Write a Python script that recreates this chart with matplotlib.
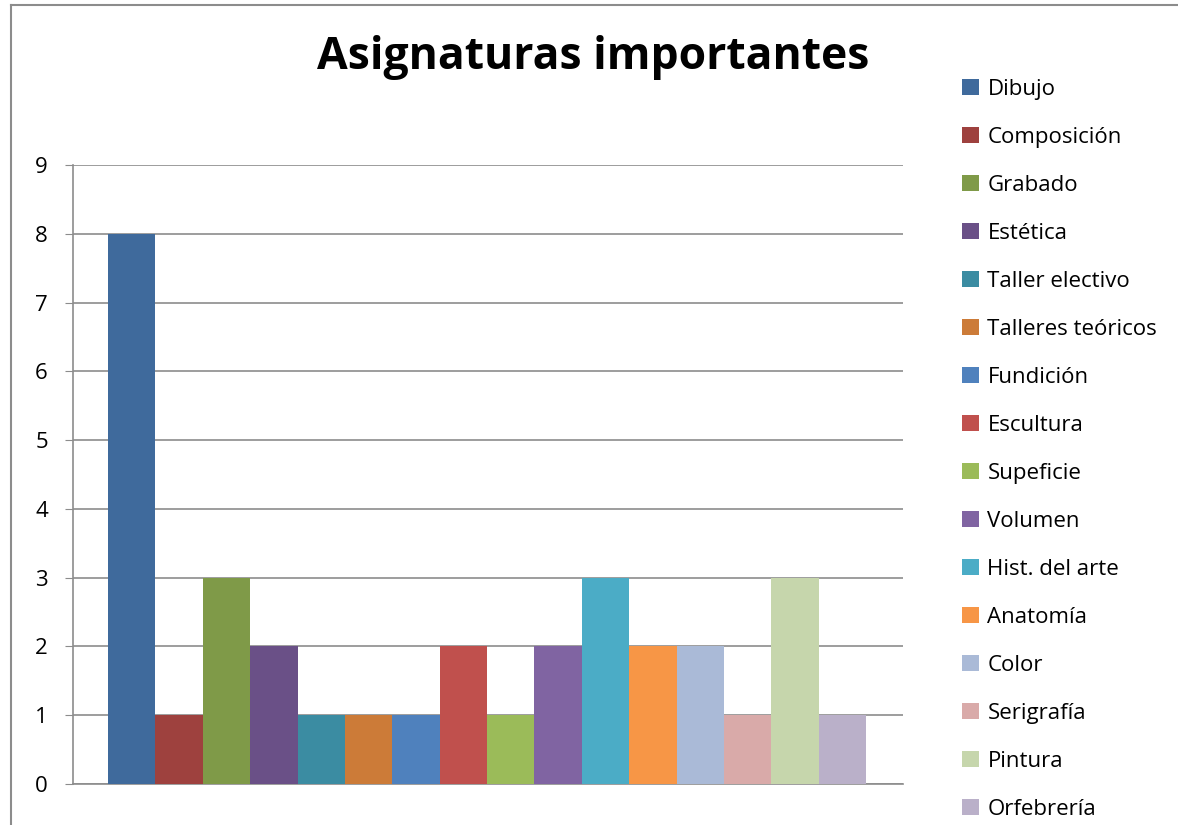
import matplotlib
matplotlib.use('Agg')
import matplotlib.pyplot as plt
from matplotlib.lines import Line2D

asignaturas = ["Dibujo", "Composición", "Grabado", "Estética", "Taller electivo",
               "Talleres teóricos", "Fundición", "Escultura", "Supeficie", "Volumen",
               "Hist. del arte", "Anatomía", "Color", "Serigrafía", "Pintura", "Orfebrería"]
valores = [8, 1, 3, 2, 1, 1, 1, 2, 1, 2, 3, 2, 2, 1, 3, 1]
colores = ["#3F6A9C", "#9E413E", "#7F9A48", "#6A5087", "#3B8CA2", "#CC7B38",
           "#4F81BD", "#C0504D", "#9BBB59", "#8064A2", "#4BACC6", "#F79646",
           "#AABAD7", "#D9AAA9", "#C6D6AC", "#BAB0C9"]

plt.rcParams['font.family'] = ['Open Sans', 'DejaVu Sans']

W, H = 1178, 825
fig = plt.figure(figsize=(W / 100, H / 100), dpi=100)
ax = fig.add_axes([73 / W, 1 - 784 / H, 830 / W, 619 / H])

for i, (nombre, v, c) in enumerate(zip(asignaturas, valores, colores)):
    ax.bar(i, v, width=1.0, color=c, label=nombre, zorder=3)

ax.set_xlim(-1.24, 16.28)
ax.set_ylim(0, 9)
ax.set_yticks(range(10))
ax.set_xticks([])
ax.grid(axis='y', color='#8c8c8c', linewidth=1.2, zorder=0)
for s in ['top', 'right']:
    ax.spines[s].set_visible(False)
for s in ['left', 'bottom']:
    ax.spines[s].set_color('#8c8c8c')
    ax.spines[s].set_linewidth(1.2)
ax.tick_params(axis='y', labelsize=16, length=6, color='#8c8c8c', pad=12)

fig.text(593 / W, 1 - 58 / H, "Asignaturas importantes", ha='center', va='center',
         fontsize=32, fontweight='bold')

handles, labels = ax.get_legend_handles_labels()
fig.legend(handles, labels, loc='upper left', bbox_to_anchor=(953 / W, 1 - 70 / H),
           frameon=False, fontsize=16, labelspacing=1.215, handlelength=0.75,
           handleheight=0.75, handletextpad=0.4, borderaxespad=0)

# chart border
fig.add_artist(Line2D([11 / W, 1], [1 - 5 / H, 1 - 5 / H], color='#8c8c8c', linewidth=1.5))
fig.add_artist(Line2D([11 / W, 11 / W], [0, 1 - 5 / H], color='#8c8c8c', linewidth=1.5))

fig.savefig('out.png', dpi=100)
